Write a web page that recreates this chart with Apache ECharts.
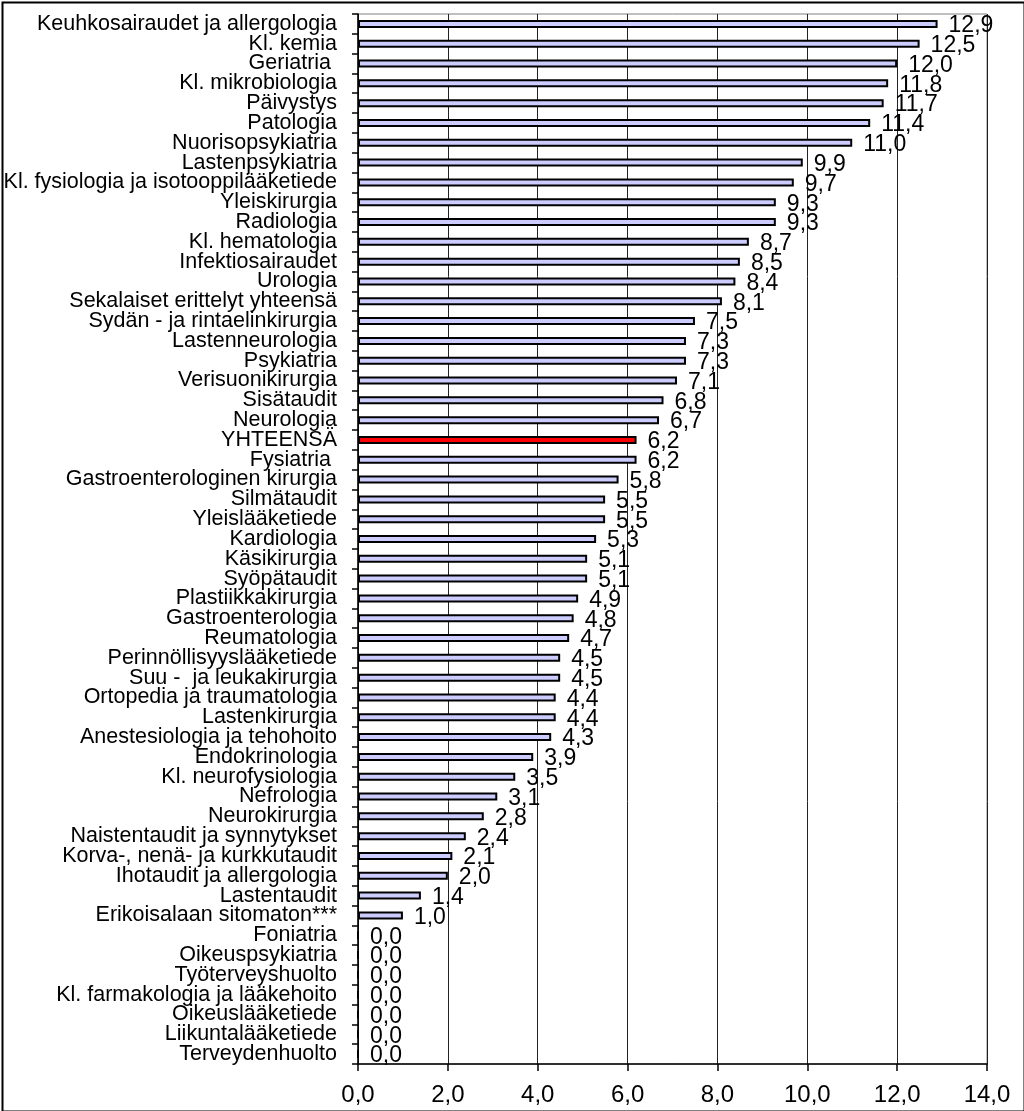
<!DOCTYPE html>
<html>
<head>
<meta charset="utf-8">
<script src="https://cdn.jsdelivr.net/npm/echarts@6/dist/echarts.min.js"></script>
<style>
html,body{margin:0;padding:0;background:#fff;}
#chart{width:1024px;height:1111px;}
</style>
</head>
<body>
<div id="chart"></div>
<script>
const categories = [
  "Keuhkosairaudet ja allergologia","Kl. kemia","Geriatria ","Kl. mikrobiologia","Päivystys","Patologia",
  "Nuorisopsykiatria","Lastenpsykiatria","Kl. fysiologia ja isotooppilääketiede","Yleiskirurgia","Radiologia",
  "Kl. hematologia","Infektiosairaudet","Urologia","Sekalaiset erittelyt yhteensä","Sydän - ja rintaelinkirurgia",
  "Lastenneurologia","Psykiatria","Verisuonikirurgia","Sisätaudit","Neurologia","YHTEENSÄ","Fysiatria ",
  "Gastroenterologinen kirurgia","Silmätaudit","Yleislääketiede","Kardiologia","Käsikirurgia","Syöpätaudit",
  "Plastiikkakirurgia","Gastroenterologia","Reumatologia","Perinnöllisyyslääketiede","Suu -  ja leukakirurgia",
  "Ortopedia ja traumatologia","Lastenkirurgia","Anestesiologia ja tehohoito","Endokrinologia","Kl. neurofysiologia",
  "Nefrologia","Neurokirurgia","Naistentaudit ja synnytykset","Korva-, nenä- ja kurkkutaudit","Ihotaudit ja allergologia",
  "Lastentaudit","Erikoisalaan sitomaton***","Foniatria","Oikeuspsykiatria","Työterveyshuolto",
  "Kl. farmakologia ja lääkehoito","Oikeuslääketiede","Liikuntalääketiede","Terveydenhuolto"
];
const values = [
  12.9,12.5,12.0,11.8,11.7,11.4,
  11.0,9.9,9.7,9.3,9.3,
  8.7,8.5,8.4,8.1,7.5,
  7.3,7.3,7.1,6.8,6.7,6.2,6.2,
  5.8,5.5,5.5,5.3,5.1,5.1,
  4.9,4.8,4.7,4.5,4.5,
  4.4,4.4,4.3,3.9,3.5,
  3.1,2.8,2.4,2.1,2.0,
  1.4,1.0,0.0,0.0,0.0,
  0.0,0.0,0.0,0.0
];
const highlightCategory = "YHTEENSÄ";
const xTicks = {min: 0, max: 14, interval: 2};

const FONT = '"Liberation Sans", Arial, sans-serif';
const chart = echarts.init(document.getElementById('chart'), null, {renderer: 'canvas'});
const fmt = v => Number(v).toFixed(1).replace('.', ',');

chart.setOption({
  animation: false,
  backgroundColor: '#ffffff',
  grid: {left: 358, right: 37, top: 14, bottom: 47, show: true, borderColor: '#808080', borderWidth: 1, backgroundColor: 'transparent'},
  xAxis: {
    type: 'value', min: xTicks.min, max: xTicks.max, interval: xTicks.interval,
    axisLine: {show: true, onZero: false, lineStyle: {color: '#000', width: 1.5}},
    axisTick: {show: true, inside: false, length: 7, lineStyle: {color: '#000', width: 1.5}},
    axisLabel: {formatter: fmt, fontFamily: FONT, fontSize: 24, color: '#000', margin: 19},
    splitLine: {show: true, lineStyle: {color: '#222', width: 1}}
  },
  yAxis: {
    type: 'category', data: categories, inverse: true,
    axisLine: {show: true, lineStyle: {color: '#000', width: 1.5}},
    axisTick: {show: true, inside: false, length: 6, lineStyle: {color: '#000', width: 1.5}},
    axisLabel: {fontFamily: FONT, fontSize: 21.5, color: '#000', margin: 21, interval: 0},
    splitLine: {show: false}
  },
  series: [{
    type: 'bar',
    data: values.map((v, i) => ({
      value: v,
      itemStyle: {color: categories[i] === highlightCategory ? '#ff0000' : '#ccccff'}
    })),
    barWidth: 8,
    itemStyle: {borderColor: '#000', borderWidth: 2},
    label: {show: true, position: 'right', distance: 11, offset: [0, 2], formatter: p => fmt(p.value),
      fontFamily: FONT, fontSize: 23, color: '#000'}
  }],
  graphic: [{
    type: 'rect', left: 0, top: 0, silent: true,
    shape: {x: 1, y: 1, width: 1022, height: 1109},
    style: {fill: 'none', stroke: '#000', lineWidth: 2}
  }]
});
</script>
</body>
</html>
